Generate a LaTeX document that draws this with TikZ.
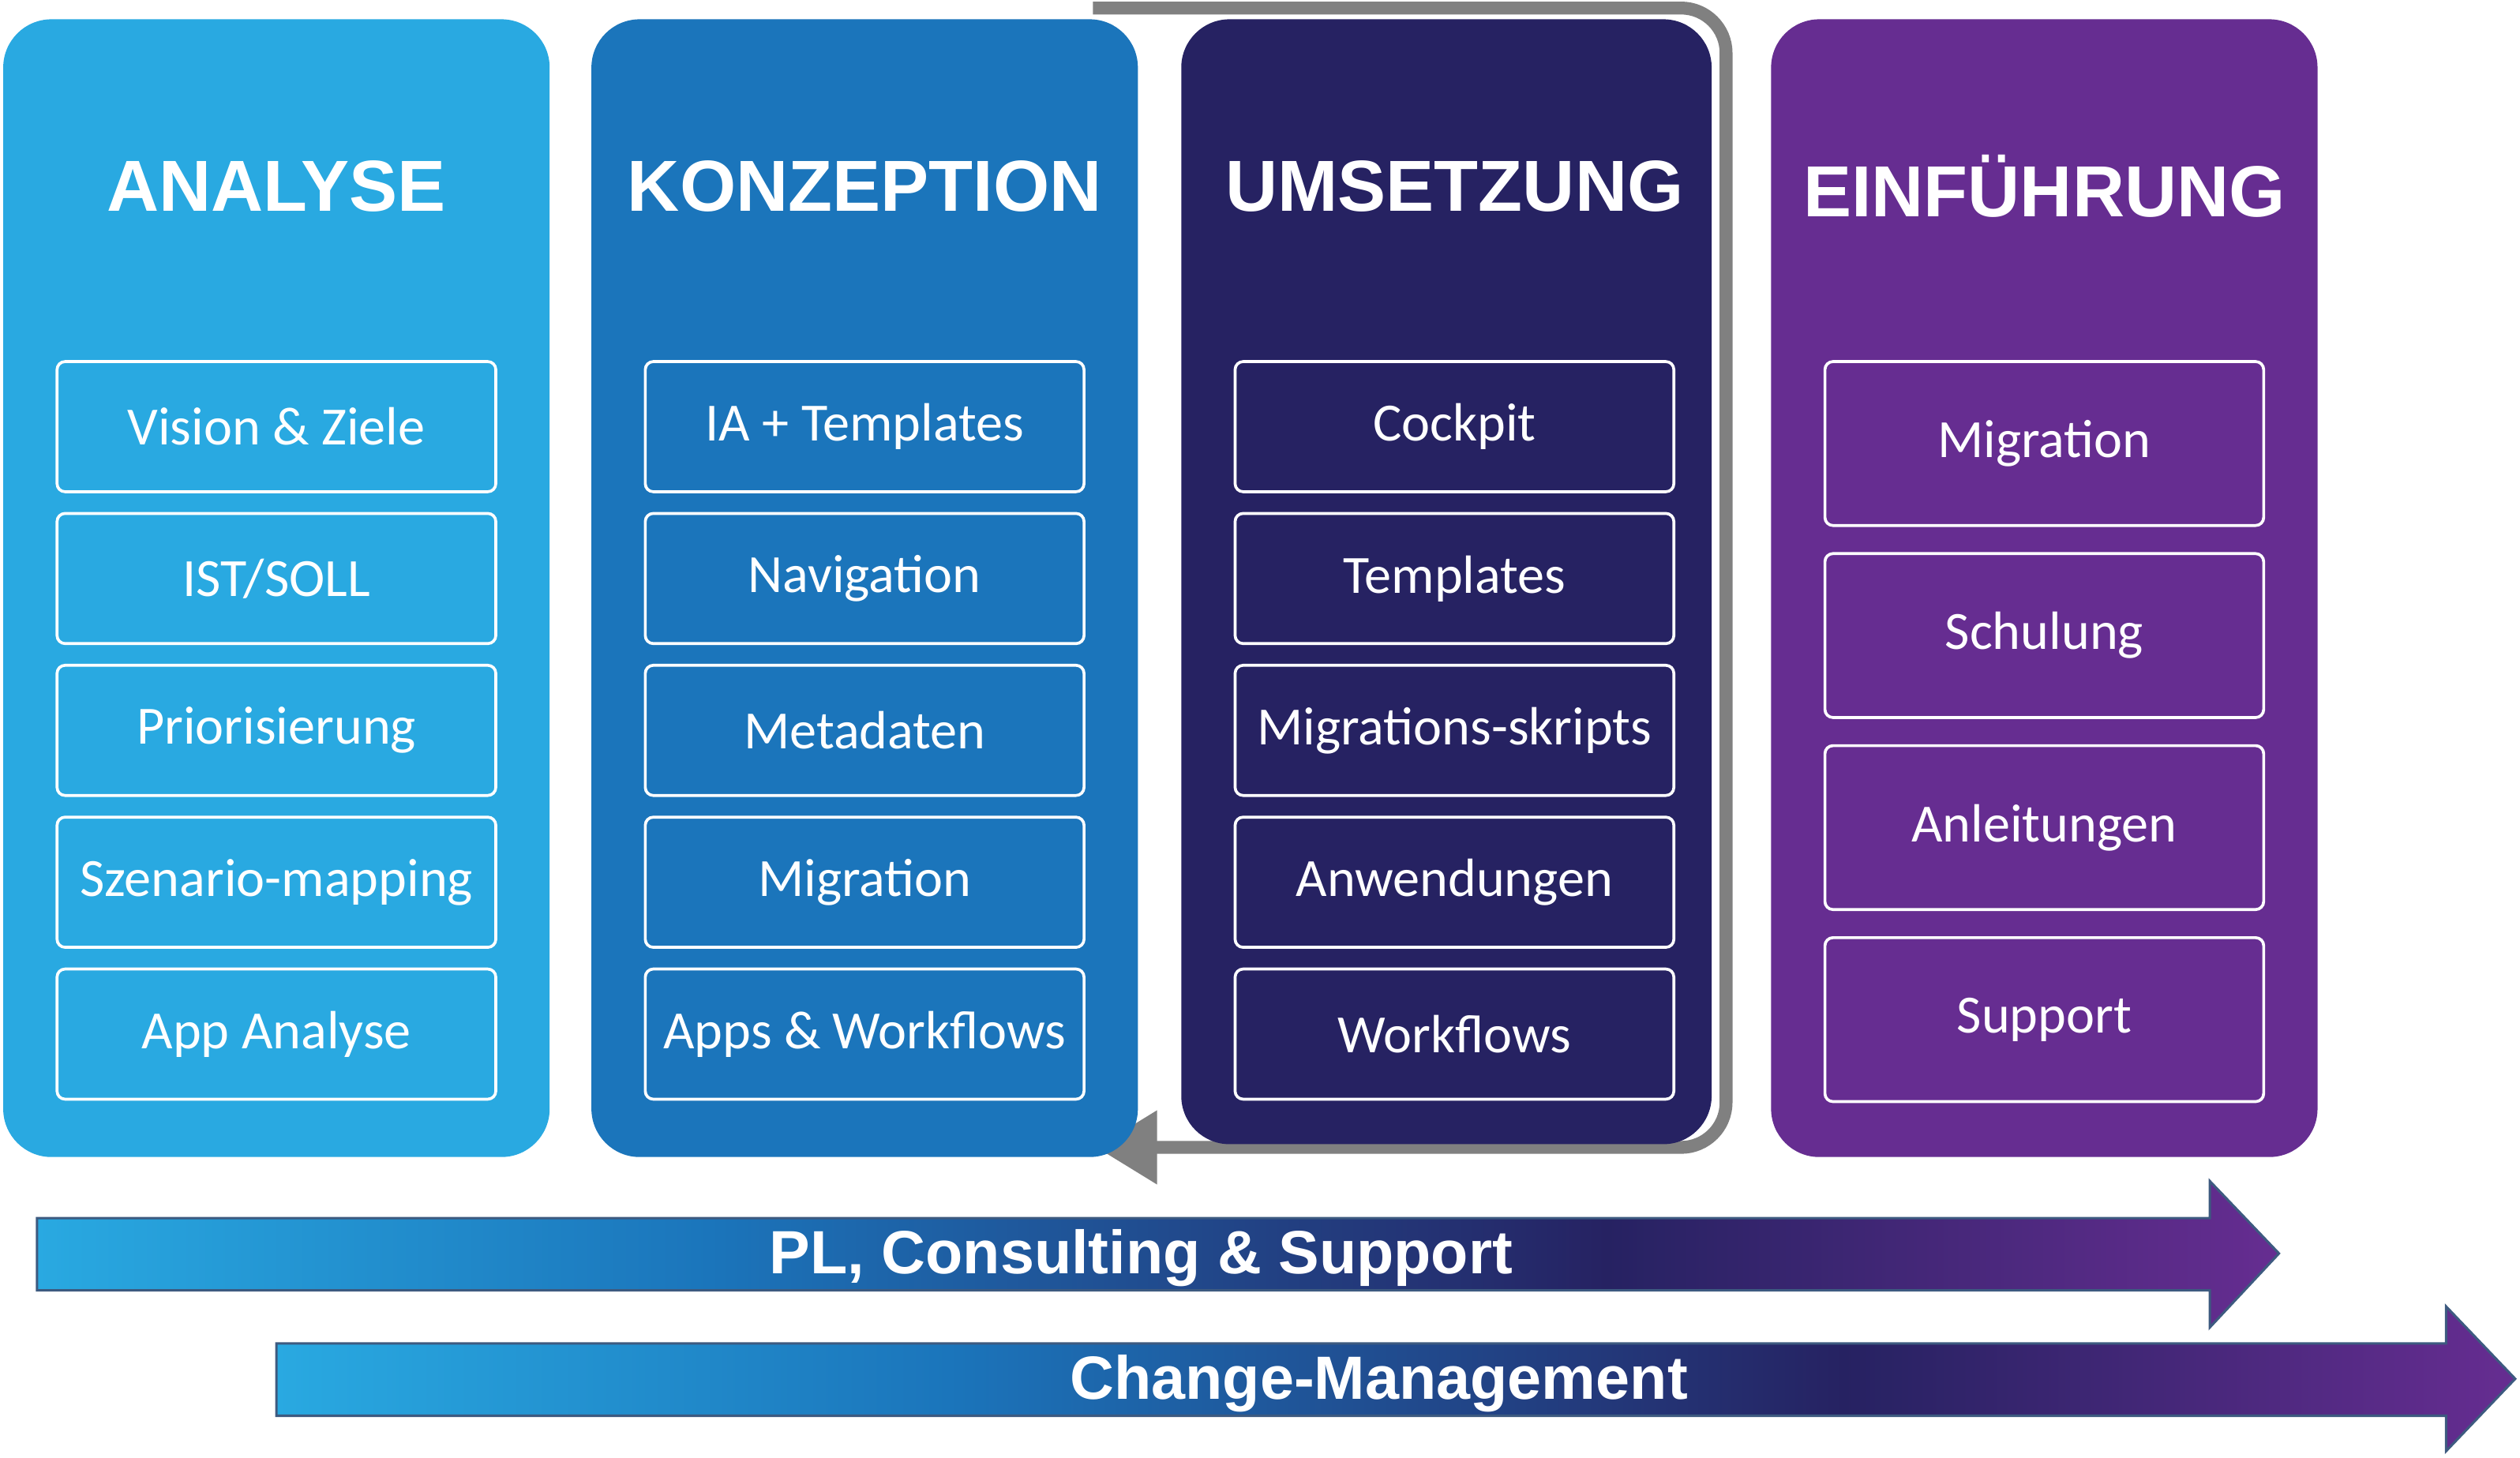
\documentclass[tikz,border=0pt]{standalone}
\usepackage{fontspec}
\setmainfont{Carlito}
\newfontfamily\headfont{Liberation Sans}
\usetikzlibrary{positioning,arrows.meta}
\definecolor{cana}{HTML}{29A9E1}
\definecolor{ckon}{HTML}{1B75BB}
\definecolor{cums}{HTML}{262262}
\definecolor{cein}{HTML}{662D91}
\definecolor{cedge}{HTML}{3D5A80}
\pgfdeclarehorizontalshading{phasegrad}{100bp}{
  color(0bp)=(cana); color(25bp)=(cana); color(40bp)=(ckon);
  color(60bp)=(cums); color(75bp)=(cein); color(100bp)=(cein)}
\begin{document}
\begin{tikzpicture}[
    x=1pt, y=-1pt,
    col/.style ={
        rounded corners=30pt,
        minimum width=340pt,
        minimum height=708pt,
        inner sep=0pt
    },
    ttl/.style ={
        white,
        font=\headfont\bfseries\fontsize{45}{50}\selectfont
    },
    itm/.style ={
        draw=white,
        line width=1.8pt,
        rounded corners=5pt,
        minimum width=273pt,
        text=white,
        inner sep=0pt,
        font=\fontsize{33.5}{37}\selectfont
    },
    band/.style ={
        draw=cedge,
        line width=1.5pt,
        shading=phasegrad
    },
    bandtxt/.style ={
        white,
        font=\headfont\bfseries\fontsize{38}{42}\selectfont
    }
    ]
    \useasboundingbox (0,0) rectangle (1568,907);

    % loop back
    \draw[gray, line width=8pt, rounded corners=28pt, -{Triangle[length=38pt,width=44pt]}]
        (680,5) -- (1074,5) -- (1074,714) -- (682,714);

    % columns
    \node[col, fill=cana] (analyse) at (172,366) {};
    \node[col, fill=ckon] (konzeption) at (538,366) {};
    \node[col, fill=cums, minimum width=330pt, minimum height=700pt] (umsetzung) at (900,362) {};
    \node[col, fill=cein] (einfuehrung) at (1272,366) {};

    % titles
    \node[ttl] (t1) at (172,116) {ANALYSE};
    \node[ttl] (t2) at (538,116) {KONZEPTION};
    \node[ttl] (t3) at (905,116) {UMSETZUNG};
    \node[ttl] (t4) at (1272,116) {EINFÜHRUNG};

    % items
    \foreach \txt [count=\i] in {Vision \& Ziele, IST/SOLL, Priorisierung, Szenario-mapping, App Analyse}
        \node[itm, minimum height=81pt] (a\i) at (172,{265.5+94.5*(\i-1)}) {\txt};
    \foreach \txt [count=\i] in {IA + Templates, Navigation, Metadaten, Migration, Apps \& Workflows}
        \node[itm, minimum height=81pt] (k\i) at (538,{265.5+94.5*(\i-1)}) {\txt};
    \foreach \txt [count=\i] in {Cockpit, Templates, Migrations-skripts, Anwendungen, Workflows}
        \node[itm, minimum height=81pt] (u\i) at (905,{265.5+94.5*(\i-1)}) {\txt};
    \foreach \txt [count=\i] in {Migration, Schulung, Anleitungen, Support}
        \node[itm, minimum height=102pt] (e\i) at (1272,{276+119.5*(\i-1)}) {\txt};

    % bands
    \draw[band] (23,758) -- (1375,758) -- (1375,735) -- (1418,780)
        -- (1375,826) -- (1375,803) -- (23,803) -- cycle;
    \node[bandtxt] (pl) at (710,783) {PL, Consulting \& Support};
    \draw[band] (172,836) -- (1522,836) -- (1522,813) -- (1565,858)
        -- (1522,903) -- (1522,881) -- (172,881) -- cycle;
    \node[bandtxt] (cm) at (858,861) {Change-Management};
\end{tikzpicture}
\end{document}
